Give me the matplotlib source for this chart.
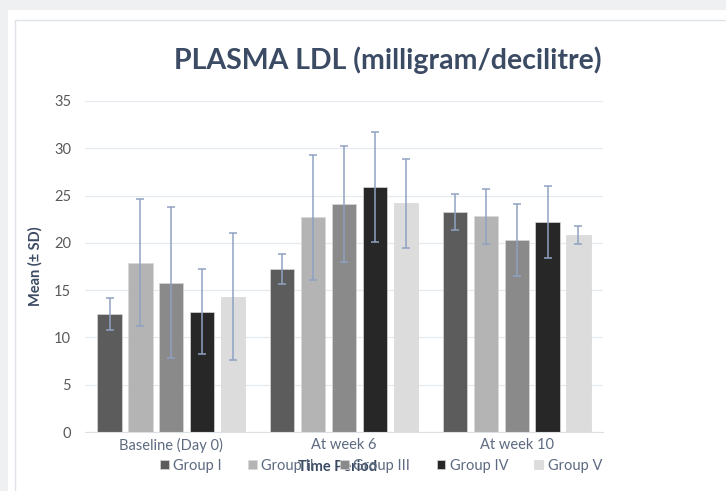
import numpy as np
import matplotlib
matplotlib.use('Agg')
import matplotlib.pyplot as plt
from matplotlib.patches import Rectangle

plt.rcParams['font.family'] = ['Lato', 'DejaVu Sans']

# 数据
periods = ['Baseline (Day 0)', 'At week 6', 'At week 10']
groups = ['Group I', 'Group II', 'Group III', 'Group IV', 'Group V']
means = {
    'Group I':   [12.5, 17.2, 23.3],
    'Group II':  [17.9, 22.7, 22.8],
    'Group III': [15.8, 24.1, 20.3],
    'Group IV':  [12.7, 25.9, 22.2],
    'Group V':   [14.3, 24.2, 20.8],
}
sds = {
    'Group I':   [1.7, 1.6, 1.9],
    'Group II':  [6.7, 6.6, 2.9],
    'Group III': [8.0, 6.1, 3.8],
    'Group IV':  [4.5, 5.8, 3.8],
    'Group V':   [6.7, 4.7, 0.95],
}
colors = ['#5c5c5c', '#b4b4b4', '#8a8a8a', '#272727', '#dcdcdc']

fig = plt.figure(figsize=(7.26, 4.91), dpi=100, facecolor='#eef0f2')

# 白色面板背景
fig.patches.append(Rectangle((8 / 726, 0), 1, 1 - 10 / 491, transform=fig.transFigure,
                             facecolor='white', edgecolor='none', zorder=-2))
fig.patches.append(Rectangle((15 / 726, -0.01), 1, 1 - 20 / 491 + 0.01, transform=fig.transFigure,
                             facecolor='white', edgecolor='#dfe3e8', linewidth=1, zorder=-1))

ax = fig.add_axes([85 / 726, 1 - 432 / 491, 518 / 726, 331 / 491])
ax.set_facecolor('white')

x = np.arange(len(periods))
step = 0.179
width = 0.14
for i, g in enumerate(groups):
    pos = x + (i - 2) * step
    ax.bar(pos, means[g], width, color=colors[i], edgecolor='#d8d8d8', linewidth=0.5,
           label=g, zorder=2)
    ax.errorbar(pos, means[g], yerr=sds[g], fmt='none', ecolor='#8fa2c2',
                elinewidth=1.1, capsize=3, capthick=1.1, zorder=3)

ax.set_xlim(-0.5, 2.5)
ax.set_ylim(0, 35)
ax.set_yticks(range(0, 36, 5))
ax.set_xticks(x)
ax.set_xticklabels(periods)
ax.grid(axis='y', color='#e6e9ef', linewidth=0.9, zorder=0)
ax.set_axisbelow(True)
for s in ['top', 'right', 'left']:
    ax.spines[s].set_visible(False)
ax.spines['bottom'].set_color('#dcdfe4')
ax.tick_params(axis='both', length=0, labelsize=10.5, colors='#595959')
ax.tick_params(axis='x', pad=4, labelcolor='#5d6a80', labelsize=10.5)
ax.tick_params(axis='y', pad=10)

ax.set_ylabel('Mean (± SD)', fontsize=10.5, fontweight='bold', color='#3b4b63', labelpad=8)
fig.text(338 / 726, 1 - 467 / 491, 'Time Period', ha='center', va='center',
         fontsize=10.5, fontweight='bold', color='#3b4b63')

fig.suptitle('PLASMA LDL (milligram/decilitre)', x=388 / 726, y=1 - 60 / 491, va='center',
             fontsize=20.5, fontweight='bold', color='#3b4b63')

leg = fig.legend(loc='center', bbox_to_anchor=(381 / 726, 1 - 466 / 491), ncol=5,
                 frameon=False, fontsize=10.5, handlelength=0.6, handleheight=0.6,
                 handletextpad=0.3, columnspacing=1.8)
for t in leg.get_texts():
    t.set_color('#5d6a80')

fig.savefig('out.png', dpi=100, facecolor=fig.get_facecolor())
